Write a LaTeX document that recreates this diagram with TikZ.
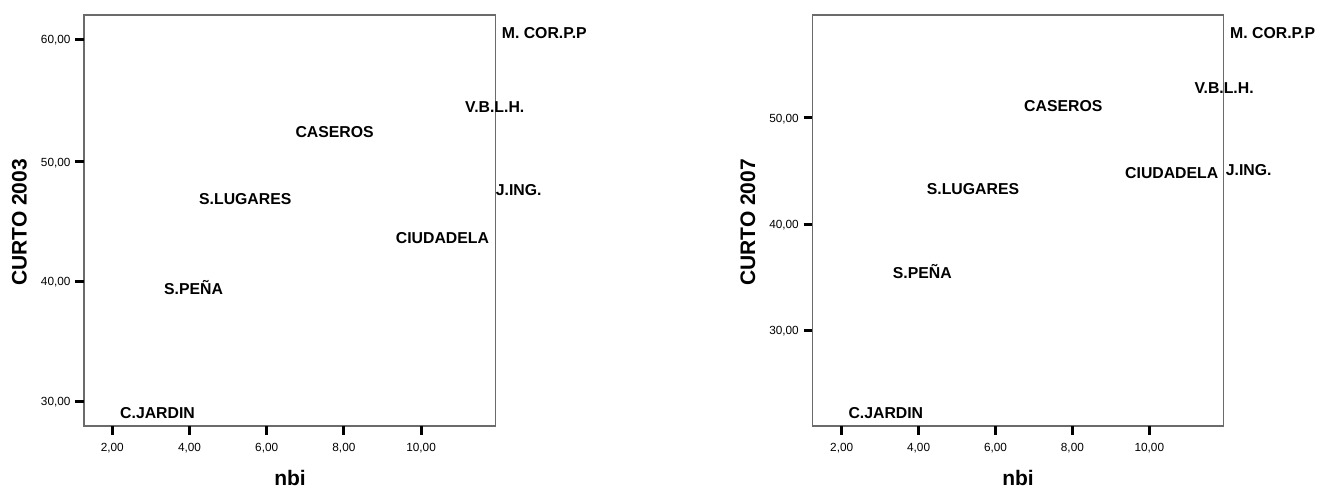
\documentclass[tikz,border=0pt]{standalone}
\usepackage{fontspec}
\setmainfont{Liberation Sans}
\begin{document}
\begin{tikzpicture}[x=1pt,y=-1pt,
  frame/.style={draw=black!58,line width=1.3pt},
  tickmark/.style={draw=black,line width=3pt},
  ticklab/.style={inner sep=0pt,font=\fontsize{11.8}{12}\selectfont},
  datalab/.style={inner sep=0pt,anchor=base west,font=\fontsize{15.8}{16}\selectfont\bfseries},
  axtitle/.style={inner sep=0pt,anchor=base,font=\fontsize{21}{22}\selectfont\bfseries}]
\useasboundingbox (0,0) rectangle (1322,489);
% ---------- left plot ----------
\draw[frame] (84,15) rectangle (495.7,426);
\foreach \v/\y in {60/39.3,50/161.9,40/281.1,30/401}{
  \draw[tickmark] (75,\y) -- (84,\y);
  \node[ticklab,anchor=base east] (ly\v) at (70.7,\y+4.3) {\v,00};
}
\foreach \v/\x in {2/112.3,4/189.5,6/266.7,8/343.9,10/421.1}{
  \draw[tickmark] (\x,426) -- (\x,434.5);
  \node[ticklab,anchor=base] (lx\v) at (\x,451.5) {\v,00};
}
\node[axtitle,rotate=90] (lytitle) at (26.7,222.5) {CURTO 2003};
\node[axtitle] (lxtitle) at (290,485.5) {nbi};
\node[datalab] (lmcor) at (501.7,38.2) {M. COR.P.P};
\node[datalab] (lvblh) at (465,112.8) {V.B.L.H.};
\node[datalab] (lcas) at (295.3,137.2) {CASEROS};
\node[datalab] (lslug) at (199,204.8) {S.LUGARES};
\node[datalab] (ljing) at (495.7,195.5) {J.ING.};
\node[datalab] (lciu) at (395.7,243.8) {CIUDADELA};
\node[datalab] (lspena) at (164,294.8) {S.PEÑA};
\node[datalab] (lcjar) at (120,418.8) {C.JARDIN};
% ---------- right plot ----------
\draw[frame] (812.3,15) rectangle (1223.7,426);
\foreach \v/\y in {50/118,40/224,30/330}{
  \draw[tickmark] (803.5,\y) -- (812.3,\y);
  \node[ticklab,anchor=base east] (ry\v) at (799,\y+4.3) {\v,00};
}
\foreach \v/\x in {2/841.7,4/918.6,6/995.5,8/1072.4,10/1149.3}{
  \draw[tickmark] (\x,426) -- (\x,434.5);
  \node[ticklab,anchor=base] (rx\v) at (\x,451.5) {\v,00};
}
\node[axtitle,rotate=90] (rytitle) at (755,222.5) {CURTO 2007};
\node[axtitle] (rxtitle) at (1018,485.5) {nbi};
\node[datalab] (rmcor) at (1230,38.2) {M. COR.P.P};
\node[datalab] (rvblh) at (1194.3,93.8) {V.B.L.H.};
\node[datalab] (rcas) at (1024,111.5) {CASEROS};
\node[datalab] (rciu) at (1125,178.8) {CIUDADELA};
\node[datalab] (rjing) at (1225.7,175.5) {J.ING.};
\node[datalab] (rslug) at (926.7,194.5) {S.LUGARES};
\node[datalab] (rspena) at (892.7,278.2) {S.PEÑA};
\node[datalab] (rcjar) at (848.3,418.8) {C.JARDIN};
\end{tikzpicture}
\end{document}
